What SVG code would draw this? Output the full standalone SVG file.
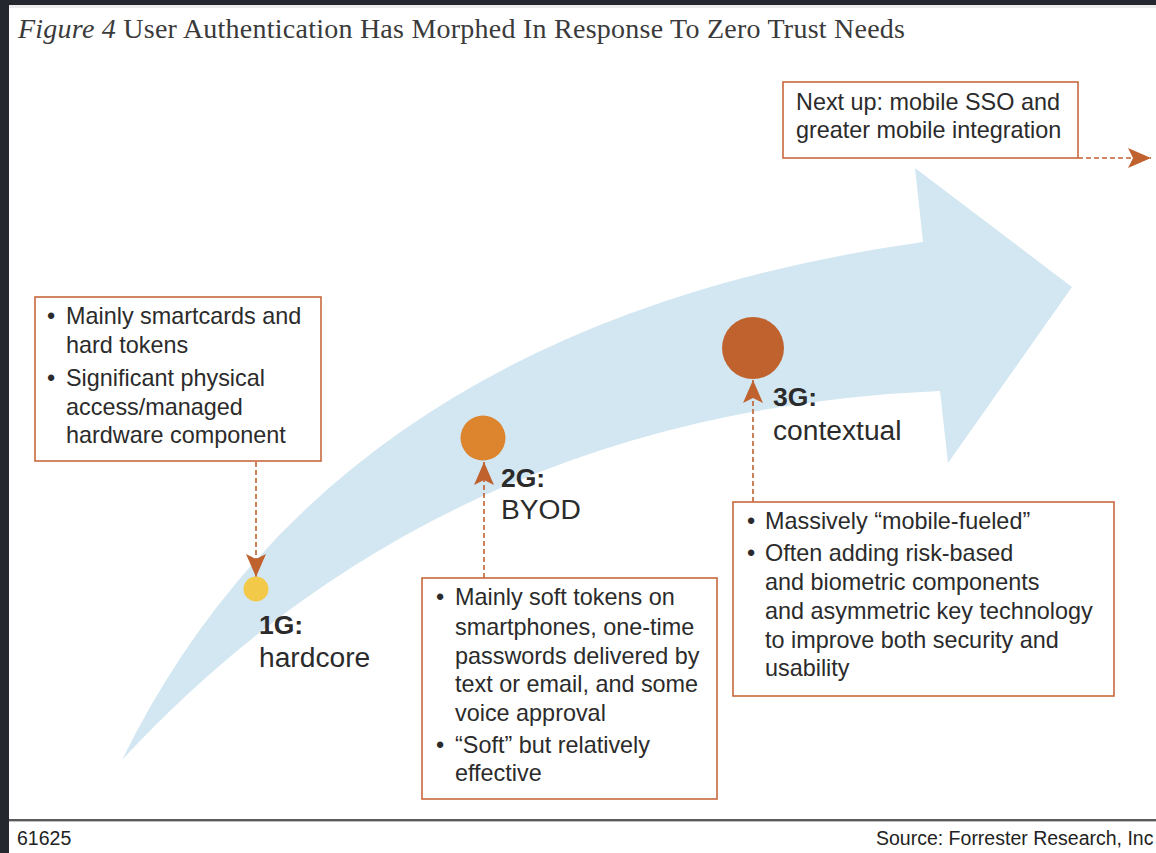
<svg xmlns="http://www.w3.org/2000/svg" width="1156" height="853" viewBox="0 0 1156 853">
<style>
.box{fill:#ffffff;stroke:#c9683c;stroke-width:1.6}
.t{font-family:"Liberation Sans",Arial,sans-serif;font-size:23.4px;fill:#2b2b2b}
.lb{font-family:"Liberation Sans",Arial,sans-serif;font-size:28.2px;fill:#2b2b2b}
.lbb{font-family:"Liberation Sans",Arial,sans-serif;font-size:26.5px;font-weight:bold;fill:#2b2b2b}
.con{fill:none;stroke:#c0622e;stroke-width:1.6;stroke-dasharray:5 3}
.foot{font-family:"Liberation Sans",Arial,sans-serif;font-size:19.5px;fill:#222}
</style>
<defs>
<marker id="ah" markerUnits="userSpaceOnUse" markerWidth="26" markerHeight="22" refX="23" refY="10" orient="auto">
<path d="M0,0 L23,10 L0,20 L5,10 z" fill="#c0622e"/>
</marker>
</defs>
<rect x="0" y="0" width="1156" height="853" fill="#ffffff"/>
<rect x="0" y="0" width="1156" height="5" fill="#24272e"/>
<rect x="9" y="5" width="1147" height="3" fill="#ececec"/>
<rect x="0" y="0" width="9" height="853" fill="#24272e"/>
<text x="18" y="38" font-family="'Liberation Serif',serif" font-size="28" fill="#3a3a3a" textLength="887" lengthAdjust="spacing"><tspan font-style="italic">Figure 4</tspan> User Authentication Has Morphed In Response To Zero Trust Needs</text>
<g id="band">
<path d="M122,760 Q335,325 923,242 L915,168 L1072,287 L948,463 L940,391 Q445,412 122,760 z" fill="#d3e7f2"/>
</g>
<g id="connectors">
<line class="con" x1="256" y1="462" x2="256" y2="577" marker-end="url(#ah)"/>
<line class="con" x1="484" y1="578" x2="484" y2="462" marker-end="url(#ah)"/>
<line class="con" x1="753" y1="502" x2="753" y2="380" marker-end="url(#ah)"/>
<line class="con" x1="1078" y1="158" x2="1151" y2="158" marker-end="url(#ah)"/>
</g>
<g id="next">
<rect class="box" x="783" y="82" width="295" height="76"/>
<text class="t" x="796" y="110">Next up: mobile SSO and</text>
<text class="t" x="796" y="138">greater mobile integration</text>
</g>
<g id="box1">
<rect class="box" x="35" y="297" width="286" height="164"/>
<text class="t" x="47" y="324">•</text><text class="t" x="66" y="324">Mainly smartcards and</text>
<text class="t" x="66" y="353">hard tokens</text>
<text class="t" x="47" y="386">•</text><text class="t" x="66" y="386">Significant physical</text>
<text class="t" x="66" y="415">access/managed</text>
<text class="t" x="66" y="443">hardware component</text>
</g>
<g id="g1">
<circle cx="256" cy="589" r="12.5" fill="#f3c94a"/>
<text class="lbb" x="259" y="634">1G:</text>
<text class="lb" x="259" y="667">hardcore</text>
</g>
<g id="g2">
<circle cx="483" cy="438" r="22.5" fill="#dc852e"/>
<text class="lbb" x="501" y="487">2G:</text>
<text class="lb" x="501" y="519">BYOD</text>
</g>
<g id="g3">
<circle cx="753" cy="348" r="31" fill="#c0622e"/>
<text class="lbb" x="773" y="406">3G:</text>
<text class="lb" x="773" y="440">contextual</text>
</g>
<g id="box2">
<rect class="box" x="422" y="578" width="295" height="221"/>
<text class="t" x="436" y="605">•</text><text class="t" x="455" y="605">Mainly soft tokens on</text>
<text class="t" x="455" y="635">smartphones, one-time</text>
<text class="t" x="455" y="664">passwords delivered by</text>
<text class="t" x="455" y="692">text or email, and some</text>
<text class="t" x="455" y="721">voice approval</text>
<text class="t" x="436" y="753">•</text><text class="t" x="455" y="753">“Soft” but relatively</text>
<text class="t" x="455" y="781">effective</text>
</g>
<g id="box3">
<rect class="box" x="733" y="502" width="381" height="194"/>
<text class="t" x="747" y="529">•</text><text class="t" x="765" y="529">Massively “mobile-fueled”</text>
<text class="t" x="747" y="561">•</text><text class="t" x="765" y="561">Often adding risk-based</text>
<text class="t" x="765" y="590">and biometric components</text>
<text class="t" x="765" y="619">and asymmetric key technology</text>
<text class="t" x="765" y="648">to improve both security and</text>
<text class="t" x="765" y="676">usability</text>
</g>
<g id="footer">
<rect x="9" y="819" width="1147" height="2" fill="#5a5a5a"/>
<rect x="9" y="821" width="1147" height="1" fill="#bdbdbd"/>
<text class="foot" x="17" y="845">61625</text>
<text class="foot" x="876" y="845">Source: Forrester Research, Inc</text>
</g>
</svg>
